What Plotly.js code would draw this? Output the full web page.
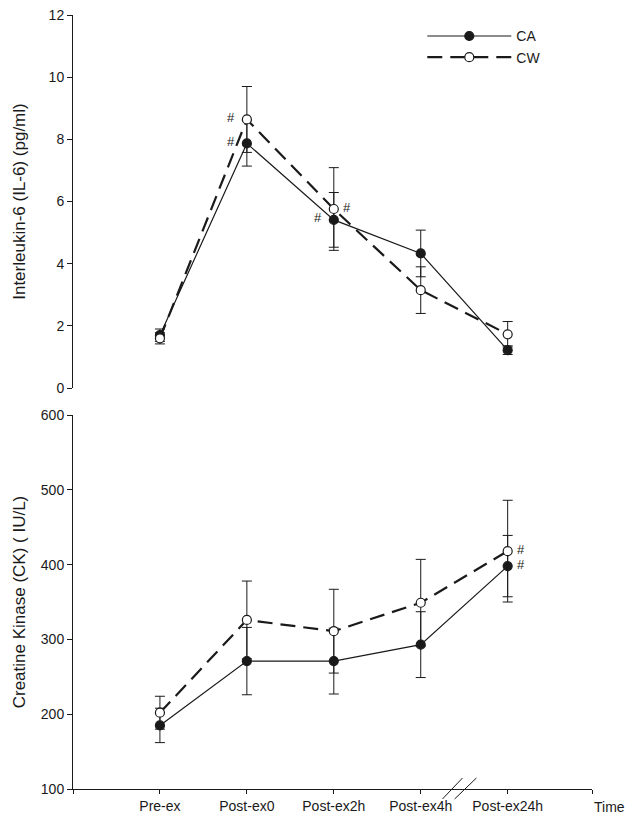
<!DOCTYPE html>
<html>
<head>
<meta charset="utf-8">
<script src="https://cdn.plot.ly/plotly-3.0.1.min.js"></script>
<style>html,body{margin:0;padding:0;background:#fff;}#chart{width:632px;height:827px;}</style>
</head>
<body>
<div id="chart"></div>
<script>
// ---- data ----
var categories = ['Pre-ex', 'Post-ex0', 'Post-ex2h', 'Post-ex4h', 'Post-ex24h'];
var seriesNames = ['CA', 'CW'];

var il6CA = [1.70, 7.87, 5.41, 4.33, 1.22];
var il6CAse = [0.20, 0.73, 0.88, 0.75, 0.14];
var il6CW = [1.60, 8.64, 5.76, 3.15, 1.73];
var il6CWse = [0.18, 1.06, 1.33, 0.75, 0.41];

var ckCA = [185, 271, 271, 293, 398];
var ckCAse = [23, 45, 44, 44, 41];
var ckCW = [202, 326, 311, 349, 418];
var ckCWse = [22, 52, 56, 58, 68];

// significance markers: [series, categoryIndex, side]
var il6Sig = [['CA', 1, 'left'], ['CW', 1, 'left'], ['CA', 2, 'left'], ['CW', 2, 'right']];
var ckSig = [['CA', 4, 'right'], ['CW', 4, 'right']];

var il6Ticks = [0, 2, 4, 6, 8, 10, 12];
var ckTicks = [100, 200, 300, 400, 500, 600];

// ---- build ----
var xIdx = categories.map(function (c, i) { return i; });
var ink = '#1a1a1a';
var font = '"Liberation Sans", Arial, sans-serif';

function makeTrace(name, y, se, xa, ya, showLegend) {
  var isCA = name === 'CA';
  return {
    type: 'scatter', mode: 'lines+markers', name: name,
    x: xIdx, y: y, xaxis: xa, yaxis: ya, showlegend: showLegend,
    line: isCA ? {color: ink, width: 1.2} : {color: ink, width: 2.2, dash: '15px,8px'},
    marker: {symbol: 'circle', size: 9, color: isCA ? ink : '#ffffff', line: {color: ink, width: 1.2}},
    error_y: {type: 'data', array: se, visible: true, color: ink, thickness: 1, width: 5},
    cliponaxis: false
  };
}

var traces = [
  makeTrace('CA', il6CA, il6CAse, 'x2', 'y2', true),
  makeTrace('CW', il6CW, il6CWse, 'x2', 'y2', true),
  makeTrace('CA', ckCA, ckCAse, 'x', 'y', false),
  makeTrace('CW', ckCW, ckCWse, 'x', 'y', false)
];

var annotations = [];
function addSig(list, dataCA, dataCW, xa, ya) {
  list.forEach(function (s) {
    var v = (s[0] === 'CA' ? dataCA : dataCW)[s[1]];
    annotations.push({
      x: s[1], y: v, xref: xa, yref: ya, text: '#', showarrow: false,
      xshift: s[2] === 'left' ? -16 : 13, yshift: 2,
      font: {family: font, size: 13, color: ink}
    });
  });
}
addSig(il6Sig, il6CA, il6CW, 'x2', 'y2');
addSig(ckSig, ckCA, ckCW, 'x', 'y');

annotations.push({
  xref: 'paper', yref: 'paper', x: 1, y: -0.023, xanchor: 'left', yanchor: 'middle',
  text: 'Time', showarrow: false, font: {family: font, size: 14, color: ink}
});

var xRange = [-1, 4.97];
var tickVals = [-1].concat(xIdx).concat([4.97]);
var tickText = [''].concat(categories).concat(['']);

var layout = {
  width: 632, height: 827,
  margin: {l: 73, r: 40, t: 15, b: 38},
  paper_bgcolor: '#ffffff', plot_bgcolor: '#ffffff',
  font: {family: font, color: ink, size: 14},
  showlegend: true,
  legend: {
    x: 0.673, y: 0.993, xanchor: 'left', yanchor: 'top',
    bgcolor: 'rgba(0,0,0,0)', font: {family: font, size: 14, color: ink},
    itemwidth: 84, tracegroupgap: 0
  },
  xaxis: {
    domain: [0, 1], range: xRange, anchor: 'y',
    showline: true, linecolor: ink, linewidth: 1,
    ticks: 'outside', ticklen: 4, tickcolor: ink,
    tickmode: 'array', tickvals: tickVals, ticktext: tickText,
    showgrid: false, zeroline: false,
    tickfont: {family: font, size: 14, color: ink}
  },
  yaxis: {
    domain: [0, 0.4832], range: [100, 600], anchor: 'x',
    showline: true, linecolor: ink, linewidth: 1,
    ticks: 'outside', ticklen: 5, tickcolor: ink,
    tickmode: 'array', tickvals: ckTicks,
    showgrid: false, zeroline: false,
    tickfont: {family: font, size: 14, color: ink},
    title: {text: 'Creatine Kinase (CK) ( IU/L)', font: {family: font, size: 17, color: ink}, standoff: 10}
  },
  xaxis2: {
    domain: [0, 1], range: xRange, anchor: 'y2', matches: 'x', visible: false
  },
  yaxis2: {
    domain: [0.518, 1], range: [0, 12], anchor: 'x2',
    showline: true, linecolor: ink, linewidth: 1,
    ticks: 'outside', ticklen: 5, tickcolor: ink,
    tickmode: 'array', tickvals: il6Ticks,
    showgrid: false, zeroline: false,
    tickfont: {family: font, size: 14, color: ink},
    title: {text: 'Interleukin-6 (IL-6) (pg/ml)', font: {family: font, size: 17, color: ink}, standoff: 18}
  },
  shapes: [
    {type: 'line', xref: 'x', yref: 'paper', x0: 3.25, y0: -0.0129, x1: 3.48, y1: 0.0142, line: {color: ink, width: 1}},
    {type: 'line', xref: 'x', yref: 'paper', x0: 3.39, y0: -0.0129, x1: 3.64, y1: 0.0142, line: {color: ink, width: 1}}
  ],
  annotations: annotations
};

Plotly.newPlot('chart', traces, layout, {displayModeBar: false, staticPlot: true});
</script>
</body>
</html>
